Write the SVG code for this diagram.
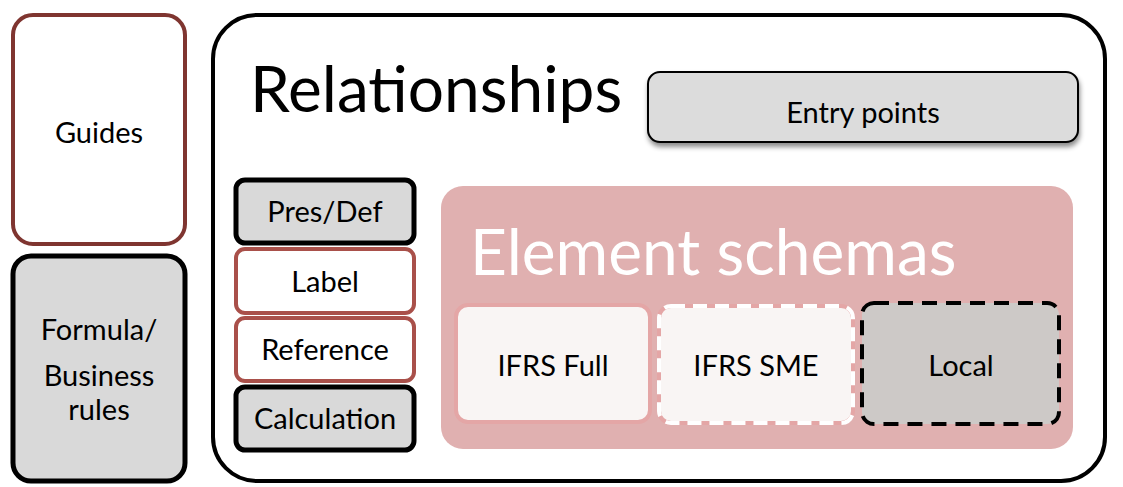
<svg xmlns="http://www.w3.org/2000/svg" width="1123" height="487" viewBox="0 0 1123 487">
  <style>
    text { font-family: Lato, "Open Sans", "Liberation Sans", sans-serif; fill: #000; text-anchor: middle; }
    .lbl { font-size: 29px; }
    .big { font-size: 64px; text-anchor: start; }
    .grey { fill: #d9d9d9; stroke: #000; stroke-width: 5; }
    .red { fill: #fff; stroke: #a9504a; stroke-width: 4; }
  </style>
  <defs>
    <filter id="shadow" x="-5%" y="-20%" width="110%" height="150%">
      <feDropShadow dx="1" dy="4" stdDeviation="2.5" flood-color="#000" flood-opacity="0.45"/>
    </filter>
  </defs>

  <!-- side panels -->
  <g id="guides">
    <rect x="13" y="15" width="172" height="229" rx="20" fill="#fff" stroke="#7f3530" stroke-width="4"/>
    <text class="lbl" x="99" y="143">Guides</text>
  </g>
  <g id="formula">
    <rect x="13" y="256" width="172" height="225" rx="18" class="grey"/>
    <text class="lbl" x="99" y="340">Formula/</text>
    <text class="lbl" x="99" y="386">Business</text>
    <text class="lbl" x="99" y="420">rules</text>
  </g>

  <!-- relationships container -->
  <g id="relationships">
    <rect x="213" y="15" width="892" height="466" rx="44" fill="#fff" stroke="#000" stroke-width="4"/>
    <text class="big" x="250" y="112">Relationships</text>
  </g>

  <g id="entry-points">
    <rect x="648" y="72" width="430" height="70" rx="12" fill="#dcdcdc" stroke="#000" stroke-width="2" filter="url(#shadow)"/>
    <text class="lbl" x="863" y="123">Entry points</text>
  </g>

  <!-- linkbase stack -->
  <g id="pres-def">
    <rect x="236" y="180" width="178" height="63" rx="9" class="grey"/>
    <text class="lbl" x="325" y="222">Pres/Def</text>
  </g>
  <g id="label">
    <rect x="236" y="249" width="178" height="64" rx="9" class="red"/>
    <text class="lbl" x="325" y="292">Label</text>
  </g>
  <g id="reference">
    <rect x="236" y="318" width="178" height="63" rx="9" class="red"/>
    <text class="lbl" x="325" y="360">Reference</text>
  </g>
  <g id="calculation">
    <rect x="236" y="387" width="178" height="63" rx="9" class="grey"/>
    <text class="lbl" x="325" y="429">Calculation</text>
  </g>

  <!-- element schemas -->
  <g id="element-schemas">
    <rect x="441" y="186" width="632" height="263" rx="22" fill="#e0b0b0"/>
    <text class="big" x="470" y="275" style="fill:#fff">Element schemas</text>
  </g>
  <g id="ifrs-full">
    <rect x="456" y="305" width="194" height="117" rx="12" fill="#f9f5f4" stroke="#e4a6a6" stroke-width="4"/>
    <text class="lbl" x="553" y="376">IFRS Full</text>
  </g>
  <g id="ifrs-sme">
    <rect x="659" y="306" width="194" height="117" rx="12" fill="#f9f5f4" stroke="#e4a6a6" stroke-width="4"/>
    <rect x="659" y="306" width="194" height="117" rx="12" fill="none" stroke="#fff" stroke-width="4" stroke-dasharray="14 8"/>
    <text class="lbl" x="756" y="376">IFRS SME</text>
  </g>
  <g id="local">
    <rect x="862" y="303" width="197" height="121" rx="12" fill="#cdc9c7" stroke="#000" stroke-width="4" stroke-dasharray="15 9"/>
    <text class="lbl" x="961" y="376">Local</text>
  </g>

  <g id="connectors"/>
</svg>
